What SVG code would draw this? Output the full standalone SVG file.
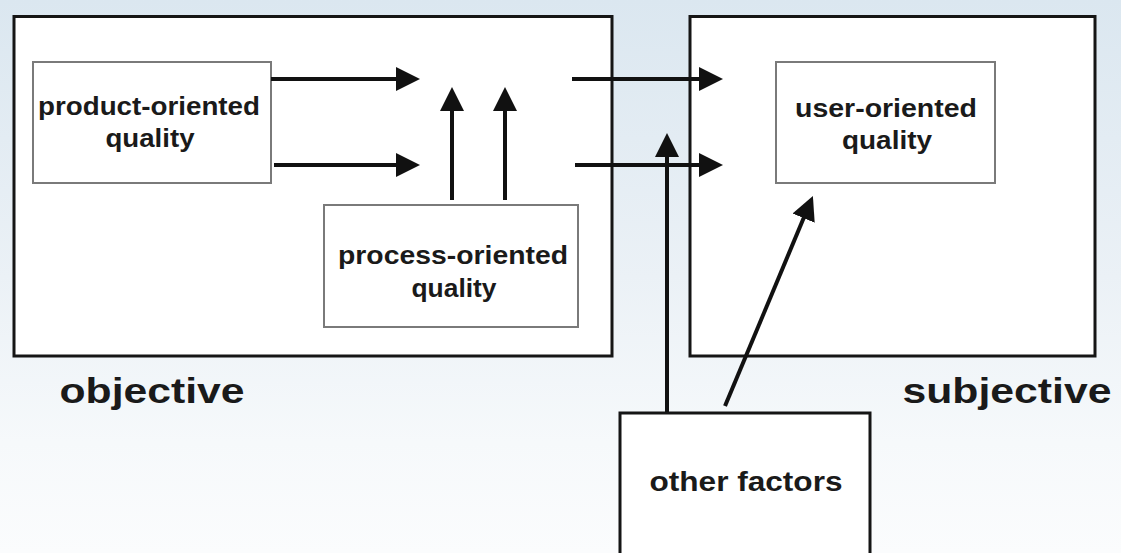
<svg xmlns="http://www.w3.org/2000/svg" width="1121" height="553" viewBox="0 0 1121 553">
  <defs>
    <linearGradient id="bg" x1="0" y1="0" x2="0" y2="1">
      <stop offset="0" stop-color="#dbe7f0"/>
      <stop offset="0.5" stop-color="#ebf1f6"/>
      <stop offset="0.8" stop-color="#f6f9fb"/>
      <stop offset="1" stop-color="#fbfcfd"/>
    </linearGradient>
    <marker id="arrow" markerUnits="userSpaceOnUse" markerWidth="26" markerHeight="26" viewBox="0 0 26 26" refX="2" refY="13" orient="auto">
      <path d="M0,1 L24,13 L0,25 z" fill="#111"/>
    </marker>
    <style>
      .outer { fill: #ffffff; stroke: #151515; stroke-width: 3; }
      .inner { fill: #ffffff; stroke: #7a7a7a; stroke-width: 2; }
      .lbl { font-family: "Liberation Sans", Arial, sans-serif; font-weight: bold; fill: #1a1a1a; text-anchor: middle; }
      .small { font-size: 26px; }
      .big { font-size: 35px; }
      .conn { stroke: #111; stroke-width: 4; fill: none; marker-end: url(#arrow); }
    </style>
  </defs>
  <rect x="0" y="0" width="1121" height="553" fill="url(#bg)"/>

  <g id="objective">
    <rect class="outer" x="14" y="16.5" width="598" height="339.5"/>
    <text class="lbl big" x="152" y="403" textLength="185" lengthAdjust="spacingAndGlyphs">objective</text>
  </g>

  <g id="subjective">
    <rect class="outer" x="690" y="16.5" width="405" height="339.5"/>
    <text class="lbl big" x="1007" y="403" textLength="209" lengthAdjust="spacingAndGlyphs">subjective</text>
  </g>

  <g id="product-oriented">
    <rect class="inner" x="33" y="62" width="238" height="121"/>
    <text class="lbl small" x="149" y="115" textLength="222" lengthAdjust="spacingAndGlyphs">product-oriented</text>
    <text class="lbl small" x="150" y="147" textLength="89" lengthAdjust="spacingAndGlyphs">quality</text>
  </g>

  <g id="process-oriented">
    <rect class="inner" x="324" y="205" width="254" height="122"/>
    <text class="lbl small" x="453" y="264" textLength="230" lengthAdjust="spacingAndGlyphs">process-oriented</text>
    <text class="lbl small" x="454" y="297" textLength="85" lengthAdjust="spacingAndGlyphs">quality</text>
  </g>

  <g id="user-oriented">
    <rect class="inner" x="776" y="62" width="219" height="121"/>
    <text class="lbl small" x="886" y="117" textLength="182" lengthAdjust="spacingAndGlyphs">user-oriented</text>
    <text class="lbl small" x="887" y="149" textLength="90" lengthAdjust="spacingAndGlyphs">quality</text>
  </g>

  <g id="other-factors">
    <rect class="outer" x="620" y="413" width="250" height="160"/>
    <text class="lbl" font-size="28" x="746" y="491" textLength="193" lengthAdjust="spacingAndGlyphs">other factors</text>
  </g>

  <g id="connectors">
    <line class="conn" x1="271" y1="79" x2="398" y2="79"/>
    <line class="conn" x1="274" y1="165" x2="398" y2="165"/>
    <line class="conn" x1="452" y1="200" x2="452" y2="109"/>
    <line class="conn" x1="505" y1="200" x2="505" y2="109"/>
    <line class="conn" x1="572" y1="79" x2="701" y2="79"/>
    <line class="conn" x1="575" y1="165" x2="701" y2="165"/>
    <line class="conn" x1="667" y1="412" x2="667" y2="155"/>
    <line class="conn" x1="725" y1="406" x2="804.4" y2="216.3"/>
  </g>
</svg>
